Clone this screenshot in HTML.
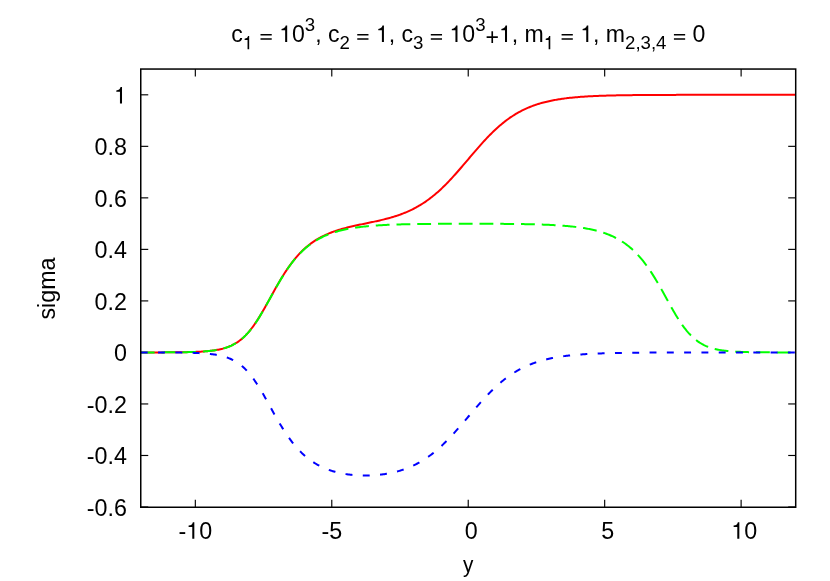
<!DOCTYPE html>
<html><head><meta charset="utf-8"><title>plot</title>
<style>
html,body{margin:0;padding:0;background:#fff;}
body{width:830px;height:581px;overflow:hidden;}
svg{display:block;will-change:transform;}
text{font-family:"Liberation Sans",sans-serif;font-size:23.3px;fill:#000;}
.sub{font-size:18.64px;}
.o,.e{fill:none;}
</style></head><body>
<svg width="830" height="581" viewBox="0 0 830 581">
<rect x="0" y="0" width="830" height="581" fill="#ffffff"/>
<g stroke="#000" stroke-width="1.15" fill="none">
<line x1="195.33" y1="507.25" x2="195.33" y2="499.75"/>
<line x1="195.33" y1="69.05" x2="195.33" y2="76.55"/>
<line x1="331.78" y1="507.25" x2="331.78" y2="499.75"/>
<line x1="331.78" y1="69.05" x2="331.78" y2="76.55"/>
<line x1="468.23" y1="507.25" x2="468.23" y2="499.75"/>
<line x1="468.23" y1="69.05" x2="468.23" y2="76.55"/>
<line x1="604.67" y1="507.25" x2="604.67" y2="499.75"/>
<line x1="604.67" y1="69.05" x2="604.67" y2="76.55"/>
<line x1="741.12" y1="507.25" x2="741.12" y2="499.75"/>
<line x1="741.12" y1="69.05" x2="741.12" y2="76.55"/>
<line x1="140.75" y1="507.00" x2="148.25" y2="507.00"/>
<line x1="795.70" y1="507.00" x2="788.20" y2="507.00"/>
<line x1="140.75" y1="455.48" x2="148.25" y2="455.48"/>
<line x1="795.70" y1="455.48" x2="788.20" y2="455.48"/>
<line x1="140.75" y1="403.95" x2="148.25" y2="403.95"/>
<line x1="795.70" y1="403.95" x2="788.20" y2="403.95"/>
<line x1="140.75" y1="300.91" x2="148.25" y2="300.91"/>
<line x1="795.70" y1="300.91" x2="788.20" y2="300.91"/>
<line x1="140.75" y1="249.38" x2="148.25" y2="249.38"/>
<line x1="795.70" y1="249.38" x2="788.20" y2="249.38"/>
<line x1="140.75" y1="197.86" x2="148.25" y2="197.86"/>
<line x1="795.70" y1="197.86" x2="788.20" y2="197.86"/>
<line x1="140.75" y1="146.34" x2="148.25" y2="146.34"/>
<line x1="795.70" y1="146.34" x2="788.20" y2="146.34"/>
<line x1="140.75" y1="94.81" x2="148.25" y2="94.81"/>
</g>
<g fill="none" stroke-linejoin="round" stroke-linecap="butt">
<path d="M140.75,352.42 L141.84,352.42 L142.93,352.42 L144.02,352.42 L145.12,352.42 L146.21,352.41 L147.30,352.41 L148.39,352.41 L149.48,352.41 L150.57,352.41 L151.67,352.41 L152.76,352.40 L153.85,352.40 L154.94,352.40 L156.03,352.40 L157.12,352.40 L158.22,352.39 L159.31,352.39 L160.40,352.39 L161.49,352.38 L162.58,352.38 L163.67,352.38 L164.76,352.37 L165.86,352.37 L166.95,352.36 L168.04,352.36 L169.13,352.35 L170.22,352.34 L171.31,352.34 L172.41,352.33 L173.50,352.32 L174.59,352.31 L175.68,352.30 L176.77,352.29 L177.86,352.28 L178.96,352.27 L180.05,352.25 L181.14,352.24 L182.23,352.22 L183.32,352.21 L184.41,352.19 L185.50,352.17 L186.60,352.15 L187.69,352.12 L188.78,352.10 L189.87,352.07 L190.96,352.04 L192.05,352.01 L193.15,351.97 L194.24,351.94 L195.33,351.90 L196.42,351.85 L197.51,351.80 L198.60,351.75 L199.70,351.70 L200.79,351.64 L201.88,351.57 L202.97,351.50 L204.06,351.43 L205.15,351.34 L206.25,351.25 L207.34,351.16 L208.43,351.05 L209.52,350.94 L210.61,350.82 L211.70,350.69 L212.79,350.55 L213.89,350.40 L214.98,350.23 L216.07,350.05 L217.16,349.86 L218.25,349.66 L219.34,349.43 L220.44,349.19 L221.53,348.93 L222.62,348.66 L223.71,348.36 L224.80,348.04 L225.89,347.69 L226.99,347.32 L228.08,346.92 L229.17,346.50 L230.26,346.04 L231.35,345.55 L232.44,345.02 L233.53,344.46 L234.63,343.87 L235.72,343.23 L236.81,342.55 L237.90,341.83 L238.99,341.06 L240.08,340.24 L241.18,339.38 L242.27,338.46 L243.36,337.49 L244.45,336.47 L245.54,335.39 L246.63,334.26 L247.73,333.07 L248.82,331.83 L249.91,330.53 L251.00,329.17 L252.09,327.75 L253.18,326.28 L254.27,324.76 L255.37,323.18 L256.46,321.55 L257.55,319.87 L258.64,318.15 L259.73,316.38 L260.82,314.57 L261.92,312.73 L263.01,310.86 L264.10,308.95 L265.19,307.02 L266.28,305.07 L267.37,303.11 L268.47,301.13 L269.56,299.15 L270.65,297.16 L271.74,295.18 L272.83,293.20 L273.92,291.23 L275.01,289.27 L276.11,287.33 L277.20,285.41 L278.29,283.51 L279.38,281.64 L280.47,279.80 L281.56,277.99 L282.66,276.21 L283.75,274.46 L284.84,272.76 L285.93,271.09 L287.02,269.46 L288.11,267.86 L289.21,266.31 L290.30,264.80 L291.39,263.33 L292.48,261.90 L293.57,260.51 L294.66,259.16 L295.75,257.85 L296.85,256.58 L297.94,255.35 L299.03,254.16 L300.12,253.01 L301.21,251.89 L302.30,250.81 L303.40,249.77 L304.49,248.76 L305.58,247.79 L306.67,246.84 L307.76,245.93 L308.85,245.06 L309.95,244.21 L311.04,243.39 L312.13,242.60 L313.22,241.84 L314.31,241.11 L315.40,240.40 L316.49,239.71 L317.59,239.05 L318.68,238.42 L319.77,237.80 L320.86,237.21 L321.95,236.63 L323.04,236.08 L324.14,235.55 L325.23,235.03 L326.32,234.54 L327.41,234.05 L328.50,233.59 L329.59,233.14 L330.69,232.71 L331.78,232.29 L332.87,231.88 L333.96,231.49 L335.05,231.10 L336.14,230.73 L337.24,230.38 L338.33,230.03 L339.42,229.69 L340.51,229.36 L341.60,229.04 L342.69,228.73 L343.78,228.43 L344.88,228.14 L345.97,227.85 L347.06,227.57 L348.15,227.30 L349.24,227.03 L350.33,226.77 L351.43,226.51 L352.52,226.26 L353.61,226.01 L354.70,225.76 L355.79,225.52 L356.88,225.28 L357.98,225.05 L359.07,224.82 L360.16,224.59 L361.25,224.36 L362.34,224.13 L363.43,223.90 L364.52,223.68 L365.62,223.45 L366.71,223.23 L367.80,223.00 L368.89,222.78 L369.98,222.55 L371.07,222.32 L372.17,222.09 L373.26,221.86 L374.35,221.63 L375.44,221.39 L376.53,221.15 L377.62,220.91 L378.72,220.66 L379.81,220.41 L380.90,220.15 L381.99,219.90 L383.08,219.63 L384.17,219.36 L385.26,219.09 L386.36,218.80 L387.45,218.52 L388.54,218.22 L389.63,217.92 L390.72,217.61 L391.81,217.30 L392.91,216.97 L394.00,216.64 L395.09,216.29 L396.18,215.94 L397.27,215.58 L398.36,215.21 L399.46,214.83 L400.55,214.44 L401.64,214.03 L402.73,213.62 L403.82,213.19 L404.91,212.75 L406.00,212.30 L407.10,211.83 L408.19,211.35 L409.28,210.86 L410.37,210.35 L411.46,209.83 L412.55,209.29 L413.65,208.74 L414.74,208.17 L415.83,207.59 L416.92,206.99 L418.01,206.37 L419.10,205.74 L420.20,205.09 L421.29,204.42 L422.38,203.73 L423.47,203.03 L424.56,202.30 L425.65,201.56 L426.74,200.80 L427.84,200.02 L428.93,199.22 L430.02,198.40 L431.11,197.56 L432.20,196.71 L433.29,195.83 L434.39,194.93 L435.48,194.02 L436.57,193.08 L437.66,192.13 L438.75,191.16 L439.84,190.16 L440.94,189.15 L442.03,188.12 L443.12,187.08 L444.21,186.01 L445.30,184.93 L446.39,183.83 L447.48,182.71 L448.58,181.58 L449.67,180.43 L450.76,179.27 L451.85,178.10 L452.94,176.91 L454.03,175.70 L455.13,174.49 L456.22,173.26 L457.31,172.02 L458.40,170.78 L459.49,169.52 L460.58,168.26 L461.68,166.99 L462.77,165.71 L463.86,164.43 L464.95,163.15 L466.04,161.86 L467.13,160.57 L468.23,159.28 L469.32,157.99 L470.41,156.70 L471.50,155.41 L472.59,154.13 L473.68,152.85 L474.77,151.58 L475.87,150.31 L476.96,149.05 L478.05,147.79 L479.14,146.55 L480.23,145.31 L481.32,144.09 L482.42,142.88 L483.51,141.68 L484.60,140.49 L485.69,139.32 L486.78,138.16 L487.87,137.01 L488.97,135.89 L490.06,134.77 L491.15,133.68 L492.24,132.60 L493.33,131.54 L494.42,130.50 L495.51,129.48 L496.61,128.47 L497.70,127.49 L498.79,126.52 L499.88,125.57 L500.97,124.65 L502.06,123.74 L503.16,122.85 L504.25,121.98 L505.34,121.14 L506.43,120.31 L507.52,119.50 L508.61,118.71 L509.71,117.94 L510.80,117.19 L511.89,116.46 L512.98,115.75 L514.07,115.06 L515.16,114.39 L516.25,113.73 L517.35,113.09 L518.44,112.48 L519.53,111.87 L520.62,111.29 L521.71,110.72 L522.80,110.17 L523.90,109.64 L524.99,109.12 L526.08,108.62 L527.17,108.14 L528.26,107.67 L529.35,107.21 L530.45,106.77 L531.54,106.34 L532.63,105.93 L533.72,105.53 L534.81,105.14 L535.90,104.77 L536.99,104.41 L538.09,104.06 L539.18,103.72 L540.27,103.40 L541.36,103.08 L542.45,102.78 L543.54,102.48 L544.64,102.20 L545.73,101.93 L546.82,101.66 L547.91,101.41 L549.00,101.16 L550.09,100.92 L551.19,100.70 L552.28,100.47 L553.37,100.26 L554.46,100.06 L555.55,99.86 L556.64,99.67 L557.73,99.49 L558.83,99.31 L559.92,99.14 L561.01,98.97 L562.10,98.82 L563.19,98.66 L564.28,98.52 L565.38,98.38 L566.47,98.24 L567.56,98.11 L568.65,97.98 L569.74,97.86 L570.83,97.74 L571.93,97.63 L573.02,97.52 L574.11,97.42 L575.20,97.32 L576.29,97.22 L577.38,97.13 L578.47,97.04 L579.57,96.95 L580.66,96.87 L581.75,96.79 L582.84,96.72 L583.93,96.64 L585.02,96.57 L586.12,96.50 L587.21,96.44 L588.30,96.37 L589.39,96.31 L590.48,96.26 L591.57,96.20 L592.67,96.15 L593.76,96.09 L594.85,96.04 L595.94,96.00 L597.03,95.95 L598.12,95.91 L599.22,95.86 L600.31,95.82 L601.40,95.78 L602.49,95.75 L603.58,95.71 L604.67,95.67 L605.76,95.64 L606.86,95.61 L607.95,95.58 L609.04,95.55 L610.13,95.52 L611.22,95.49 L612.31,95.46 L613.41,95.44 L614.50,95.41 L615.59,95.39 L616.68,95.37 L617.77,95.35 L618.86,95.33 L619.96,95.31 L621.05,95.29 L622.14,95.27 L623.23,95.25 L624.32,95.23 L625.41,95.22 L626.50,95.20 L627.60,95.19 L628.69,95.17 L629.78,95.16 L630.87,95.14 L631.96,95.13 L633.05,95.12 L634.15,95.11 L635.24,95.09 L636.33,95.08 L637.42,95.07 L638.51,95.06 L639.60,95.05 L640.70,95.04 L641.79,95.03 L642.88,95.03 L643.97,95.02 L645.06,95.01 L646.15,95.00 L647.24,94.99 L648.34,94.99 L649.43,94.98 L650.52,94.97 L651.61,94.97 L652.70,94.96 L653.79,94.96 L654.89,94.95 L655.98,94.94 L657.07,94.94 L658.16,94.93 L659.25,94.93 L660.34,94.92 L661.44,94.92 L662.53,94.92 L663.62,94.91 L664.71,94.91 L665.80,94.90 L666.89,94.90 L667.98,94.90 L669.08,94.89 L670.17,94.89 L671.26,94.89 L672.35,94.88 L673.44,94.88 L674.53,94.88 L675.63,94.88 L676.72,94.87 L677.81,94.87 L678.90,94.87 L679.99,94.87 L681.08,94.86 L682.18,94.86 L683.27,94.86 L684.36,94.86 L685.45,94.86 L686.54,94.85 L687.63,94.85 L688.72,94.85 L689.82,94.85 L690.91,94.85 L692.00,94.85 L693.09,94.85 L694.18,94.84 L695.27,94.84 L696.37,94.84 L697.46,94.84 L698.55,94.84 L699.64,94.84 L700.73,94.84 L701.82,94.84 L702.92,94.84 L704.01,94.83 L705.10,94.83 L706.19,94.83 L707.28,94.83 L708.37,94.83 L709.46,94.83 L710.56,94.83 L711.65,94.83 L712.74,94.83 L713.83,94.83 L714.92,94.83 L716.01,94.83 L717.11,94.83 L718.20,94.83 L719.29,94.82 L720.38,94.82 L721.47,94.82 L722.56,94.82 L723.66,94.82 L724.75,94.82 L725.84,94.82 L726.93,94.82 L728.02,94.82 L729.11,94.82 L730.21,94.82 L731.30,94.82 L732.39,94.82 L733.48,94.82 L734.57,94.82 L735.66,94.82 L736.75,94.82 L737.85,94.82 L738.94,94.82 L740.03,94.82 L741.12,94.82 L742.21,94.82 L743.30,94.82 L744.40,94.82 L745.49,94.82 L746.58,94.82 L747.67,94.82 L748.76,94.82 L749.85,94.82 L750.95,94.82 L752.04,94.82 L753.13,94.82 L754.22,94.82 L755.31,94.82 L756.40,94.82 L757.49,94.81 L758.59,94.81 L759.68,94.81 L760.77,94.81 L761.86,94.81 L762.95,94.81 L764.04,94.81 L765.14,94.81 L766.23,94.81 L767.32,94.81 L768.41,94.81 L769.50,94.81 L770.59,94.81 L771.69,94.81 L772.78,94.81 L773.87,94.81 L774.96,94.81 L776.05,94.81 L777.14,94.81 L778.23,94.81 L779.33,94.81 L780.42,94.81 L781.51,94.81 L782.60,94.81 L783.69,94.81 L784.78,94.81 L785.88,94.81 L786.97,94.81 L788.06,94.81 L789.15,94.81 L790.24,94.81 L791.33,94.81 L792.43,94.81 L793.52,94.81 L794.61,94.81 L795.70,94.81" stroke="#ff0000" stroke-width="2"/>
<path d="M140.75,352.42 L141.84,352.42 L142.93,352.42 L144.02,352.42 L145.12,352.42 L146.21,352.41 L147.30,352.41 L148.39,352.41 L149.48,352.41 L150.57,352.41 L151.67,352.41 L152.76,352.41 L153.85,352.40 L154.94,352.40 L156.03,352.40 L157.12,352.40 L158.22,352.39 L159.31,352.39 L160.40,352.39 L161.49,352.38 L162.58,352.38 L163.67,352.38 L164.76,352.37 L165.86,352.37 L166.95,352.36 L168.04,352.36 L169.13,352.35 L170.22,352.35 L171.31,352.34 L172.41,352.33 L173.50,352.32 L174.59,352.31 L175.68,352.30 L176.77,352.29 L177.86,352.28 L178.96,352.27 L180.05,352.26 L181.14,352.24 L182.23,352.23 L183.32,352.21 L184.41,352.19 L185.50,352.17 L186.60,352.15 L187.69,352.13 L188.78,352.10 L189.87,352.07 L190.96,352.05 L192.05,352.01 L193.15,351.98 L194.24,351.94 L195.33,351.90 L196.42,351.86 L197.51,351.81 L198.60,351.76 L199.70,351.70 L200.79,351.64 L201.88,351.58 L202.97,351.51 L204.06,351.43 L205.15,351.35 L206.25,351.26 L207.34,351.17 L208.43,351.06 L209.52,350.95 L210.61,350.83 L211.70,350.70 L212.79,350.56 L213.89,350.41 L214.98,350.24 L216.07,350.07 L217.16,349.87 L218.25,349.67 L219.34,349.45 L220.44,349.21 L221.53,348.95 L222.62,348.67 L223.71,348.37 L224.80,348.05 L225.89,347.71 L226.99,347.34 L228.08,346.94 L229.17,346.52 L230.26,346.06 L231.35,345.57 L232.44,345.05 L233.53,344.49 L234.63,343.89 L235.72,343.25 L236.81,342.58 L237.90,341.85 L238.99,341.09 L240.08,340.27 L241.18,339.41 L242.27,338.49 L243.36,337.53 L244.45,336.50 L245.54,335.43 L246.63,334.30 L247.73,333.11 L248.82,331.87 L249.91,330.57 L251.00,329.21 L252.09,327.80 L253.18,326.33 L254.27,324.81 L255.37,323.23 L256.46,321.60 L257.55,319.93 L258.64,318.21 L259.73,316.44 L260.82,314.64 L261.92,312.80 L263.01,310.92 L264.10,309.02 L265.19,307.10 L266.28,305.15 L267.37,303.19 L268.47,301.22 L269.56,299.24 L270.65,297.25 L271.74,295.27 L272.83,293.30 L273.92,291.33 L275.01,289.38 L276.11,287.44 L277.20,285.53 L278.29,283.63 L279.38,281.77 L280.47,279.93 L281.56,278.13 L282.66,276.35 L283.75,274.61 L284.84,272.91 L285.93,271.25 L287.02,269.62 L288.11,268.04 L289.21,266.49 L290.30,264.99 L291.39,263.52 L292.48,262.10 L293.57,260.72 L294.66,259.38 L295.75,258.08 L296.85,256.82 L297.94,255.60 L299.03,254.42 L300.12,253.28 L301.21,252.17 L302.30,251.11 L303.40,250.07 L304.49,249.08 L305.58,248.12 L306.67,247.19 L307.76,246.29 L308.85,245.43 L309.95,244.60 L311.04,243.80 L312.13,243.02 L313.22,242.28 L314.31,241.56 L315.40,240.87 L316.49,240.21 L317.59,239.57 L318.68,238.95 L319.77,238.36 L320.86,237.79 L321.95,237.24 L323.04,236.71 L324.14,236.20 L325.23,235.71 L326.32,235.24 L327.41,234.79 L328.50,234.36 L329.59,233.94 L330.69,233.54 L331.78,233.15 L332.87,232.78 L333.96,232.42 L335.05,232.08 L336.14,231.75 L337.24,231.43 L338.33,231.12 L339.42,230.83 L340.51,230.55 L341.60,230.28 L342.69,230.02 L343.78,229.77 L344.88,229.53 L345.97,229.30 L347.06,229.07 L348.15,228.86 L349.24,228.66 L350.33,228.46 L351.43,228.27 L352.52,228.09 L353.61,227.91 L354.70,227.74 L355.79,227.58 L356.88,227.43 L357.98,227.28 L359.07,227.14 L360.16,227.00 L361.25,226.87 L362.34,226.74 L363.43,226.62 L364.52,226.50 L365.62,226.39 L366.71,226.28 L367.80,226.17 L368.89,226.07 L369.98,225.98 L371.07,225.89 L372.17,225.80 L373.26,225.71 L374.35,225.63 L375.44,225.55 L376.53,225.48 L377.62,225.40 L378.72,225.33 L379.81,225.27 L380.90,225.20 L381.99,225.14 L383.08,225.08 L384.17,225.02 L385.26,224.97 L386.36,224.92 L387.45,224.87 L388.54,224.82 L389.63,224.77 L390.72,224.73 L391.81,224.68 L392.91,224.64 L394.00,224.60 L395.09,224.56 L396.18,224.53 L397.27,224.49 L398.36,224.46 L399.46,224.43 L400.55,224.39 L401.64,224.36 L402.73,224.34 L403.82,224.31 L404.91,224.28 L406.00,224.26 L407.10,224.23 L408.19,224.21 L409.28,224.19 L410.37,224.16 L411.46,224.14 L412.55,224.12 L413.65,224.10 L414.74,224.09 L415.83,224.07 L416.92,224.05 L418.01,224.04 L419.10,224.02 L420.20,224.01 L421.29,223.99 L422.38,223.98 L423.47,223.96 L424.56,223.95 L425.65,223.94 L426.74,223.93 L427.84,223.92 L428.93,223.91 L430.02,223.90 L431.11,223.89 L432.20,223.88 L433.29,223.87 L434.39,223.86 L435.48,223.85 L436.57,223.85 L437.66,223.84 L438.75,223.83 L439.84,223.83 L440.94,223.82 L442.03,223.81 L443.12,223.81 L444.21,223.80 L445.30,223.80 L446.39,223.79 L447.48,223.79 L448.58,223.78 L449.67,223.78 L450.76,223.78 L451.85,223.77 L452.94,223.77 L454.03,223.77 L455.13,223.76 L456.22,223.76 L457.31,223.76 L458.40,223.76 L459.49,223.76 L460.58,223.75 L461.68,223.75 L462.77,223.75 L463.86,223.75 L464.95,223.75 L466.04,223.75 L467.13,223.75 L468.23,223.75 L469.32,223.75 L470.41,223.75 L471.50,223.75 L472.59,223.75 L473.68,223.75 L474.77,223.75 L475.87,223.75 L476.96,223.76 L478.05,223.76 L479.14,223.76 L480.23,223.76 L481.32,223.76 L482.42,223.77 L483.51,223.77 L484.60,223.77 L485.69,223.78 L486.78,223.78 L487.87,223.78 L488.97,223.79 L490.06,223.79 L491.15,223.80 L492.24,223.80 L493.33,223.81 L494.42,223.81 L495.51,223.82 L496.61,223.83 L497.70,223.83 L498.79,223.84 L499.88,223.85 L500.97,223.85 L502.06,223.86 L503.16,223.87 L504.25,223.88 L505.34,223.89 L506.43,223.90 L507.52,223.91 L508.61,223.92 L509.71,223.93 L510.80,223.94 L511.89,223.95 L512.98,223.96 L514.07,223.98 L515.16,223.99 L516.25,224.01 L517.35,224.02 L518.44,224.04 L519.53,224.05 L520.62,224.07 L521.71,224.09 L522.80,224.10 L523.90,224.12 L524.99,224.14 L526.08,224.16 L527.17,224.19 L528.26,224.21 L529.35,224.23 L530.45,224.26 L531.54,224.28 L532.63,224.31 L533.72,224.34 L534.81,224.36 L535.90,224.39 L536.99,224.43 L538.09,224.46 L539.18,224.49 L540.27,224.53 L541.36,224.56 L542.45,224.60 L543.54,224.64 L544.64,224.68 L545.73,224.73 L546.82,224.77 L547.91,224.82 L549.00,224.87 L550.09,224.92 L551.19,224.97 L552.28,225.02 L553.37,225.08 L554.46,225.14 L555.55,225.20 L556.64,225.27 L557.73,225.33 L558.83,225.40 L559.92,225.48 L561.01,225.55 L562.10,225.63 L563.19,225.71 L564.28,225.80 L565.38,225.89 L566.47,225.98 L567.56,226.07 L568.65,226.17 L569.74,226.28 L570.83,226.39 L571.93,226.50 L573.02,226.62 L574.11,226.74 L575.20,226.87 L576.29,227.00 L577.38,227.14 L578.47,227.28 L579.57,227.43 L580.66,227.58 L581.75,227.74 L582.84,227.91 L583.93,228.09 L585.02,228.27 L586.12,228.46 L587.21,228.66 L588.30,228.86 L589.39,229.07 L590.48,229.30 L591.57,229.53 L592.67,229.77 L593.76,230.02 L594.85,230.28 L595.94,230.55 L597.03,230.83 L598.12,231.12 L599.22,231.43 L600.31,231.75 L601.40,232.08 L602.49,232.42 L603.58,232.78 L604.67,233.15 L605.76,233.54 L606.86,233.94 L607.95,234.36 L609.04,234.79 L610.13,235.24 L611.22,235.71 L612.31,236.20 L613.41,236.71 L614.50,237.24 L615.59,237.79 L616.68,238.36 L617.77,238.95 L618.86,239.57 L619.96,240.21 L621.05,240.87 L622.14,241.56 L623.23,242.28 L624.32,243.02 L625.41,243.80 L626.50,244.60 L627.60,245.43 L628.69,246.29 L629.78,247.19 L630.87,248.12 L631.96,249.08 L633.05,250.07 L634.15,251.11 L635.24,252.17 L636.33,253.28 L637.42,254.42 L638.51,255.60 L639.60,256.82 L640.70,258.08 L641.79,259.38 L642.88,260.72 L643.97,262.10 L645.06,263.52 L646.15,264.99 L647.24,266.49 L648.34,268.04 L649.43,269.62 L650.52,271.25 L651.61,272.91 L652.70,274.61 L653.79,276.35 L654.89,278.13 L655.98,279.93 L657.07,281.77 L658.16,283.63 L659.25,285.53 L660.34,287.44 L661.44,289.38 L662.53,291.33 L663.62,293.30 L664.71,295.27 L665.80,297.25 L666.89,299.24 L667.98,301.22 L669.08,303.19 L670.17,305.15 L671.26,307.10 L672.35,309.02 L673.44,310.92 L674.53,312.80 L675.63,314.64 L676.72,316.44 L677.81,318.21 L678.90,319.93 L679.99,321.60 L681.08,323.23 L682.18,324.81 L683.27,326.33 L684.36,327.80 L685.45,329.21 L686.54,330.57 L687.63,331.87 L688.72,333.11 L689.82,334.30 L690.91,335.43 L692.00,336.50 L693.09,337.53 L694.18,338.49 L695.27,339.41 L696.37,340.27 L697.46,341.09 L698.55,341.85 L699.64,342.58 L700.73,343.25 L701.82,343.89 L702.92,344.49 L704.01,345.05 L705.10,345.57 L706.19,346.06 L707.28,346.52 L708.37,346.94 L709.46,347.34 L710.56,347.71 L711.65,348.05 L712.74,348.37 L713.83,348.67 L714.92,348.95 L716.01,349.21 L717.11,349.45 L718.20,349.67 L719.29,349.87 L720.38,350.07 L721.47,350.24 L722.56,350.41 L723.66,350.56 L724.75,350.70 L725.84,350.83 L726.93,350.95 L728.02,351.06 L729.11,351.17 L730.21,351.26 L731.30,351.35 L732.39,351.43 L733.48,351.51 L734.57,351.58 L735.66,351.64 L736.75,351.70 L737.85,351.76 L738.94,351.81 L740.03,351.86 L741.12,351.90 L742.21,351.94 L743.30,351.98 L744.40,352.01 L745.49,352.05 L746.58,352.07 L747.67,352.10 L748.76,352.13 L749.85,352.15 L750.95,352.17 L752.04,352.19 L753.13,352.21 L754.22,352.23 L755.31,352.24 L756.40,352.26 L757.49,352.27 L758.59,352.28 L759.68,352.29 L760.77,352.30 L761.86,352.31 L762.95,352.32 L764.04,352.33 L765.14,352.34 L766.23,352.35 L767.32,352.35 L768.41,352.36 L769.50,352.36 L770.59,352.37 L771.69,352.37 L772.78,352.38 L773.87,352.38 L774.96,352.38 L776.05,352.39 L777.14,352.39 L778.23,352.39 L779.33,352.40 L780.42,352.40 L781.51,352.40 L782.60,352.40 L783.69,352.41 L784.78,352.41 L785.88,352.41 L786.97,352.41 L788.06,352.41 L789.15,352.41 L790.24,352.41 L791.33,352.42 L792.43,352.42 L793.52,352.42 L794.61,352.42 L795.70,352.42" stroke="#00ff00" stroke-width="2" stroke-dasharray="13.835,6.917"/>
<path d="M140.75,352.44 L141.84,352.44 L142.93,352.44 L144.02,352.44 L145.12,352.44 L146.21,352.44 L147.30,352.44 L148.39,352.45 L149.48,352.45 L150.57,352.45 L151.67,352.45 L152.76,352.45 L153.85,352.45 L154.94,352.46 L156.03,352.46 L157.12,352.46 L158.22,352.46 L159.31,352.47 L160.40,352.47 L161.49,352.47 L162.58,352.48 L163.67,352.48 L164.76,352.48 L165.86,352.49 L166.95,352.49 L168.04,352.50 L169.13,352.51 L170.22,352.51 L171.31,352.52 L172.41,352.53 L173.50,352.53 L174.59,352.54 L175.68,352.55 L176.77,352.56 L177.86,352.57 L178.96,352.59 L180.05,352.60 L181.14,352.61 L182.23,352.63 L183.32,352.65 L184.41,352.66 L185.50,352.68 L186.60,352.70 L187.69,352.73 L188.78,352.75 L189.87,352.78 L190.96,352.81 L192.05,352.84 L193.15,352.87 L194.24,352.91 L195.33,352.95 L196.42,353.00 L197.51,353.04 L198.60,353.09 L199.70,353.15 L200.79,353.21 L201.88,353.27 L202.97,353.34 L204.06,353.42 L205.15,353.50 L206.25,353.59 L207.34,353.68 L208.43,353.79 L209.52,353.90 L210.61,354.02 L211.70,354.15 L212.79,354.29 L213.89,354.44 L214.98,354.60 L216.07,354.78 L217.16,354.97 L218.25,355.18 L219.34,355.40 L220.44,355.64 L221.53,355.89 L222.62,356.17 L223.71,356.47 L224.80,356.79 L225.89,357.13 L226.99,357.50 L228.08,357.90 L229.17,358.32 L230.26,358.78 L231.35,359.27 L232.44,359.79 L233.53,360.35 L234.63,360.94 L235.72,361.58 L236.81,362.26 L237.90,362.98 L238.99,363.74 L240.08,364.56 L241.18,365.42 L242.27,366.33 L243.36,367.30 L244.45,368.32 L245.54,369.39 L246.63,370.52 L247.73,371.71 L248.82,372.95 L249.91,374.25 L251.00,375.60 L252.09,377.01 L253.18,378.48 L254.27,380.00 L255.37,381.58 L256.46,383.20 L257.55,384.87 L258.64,386.59 L259.73,388.35 L260.82,390.16 L261.92,391.99 L263.01,393.86 L264.10,395.76 L265.19,397.69 L266.28,399.63 L267.37,401.59 L268.47,403.56 L269.56,405.53 L270.65,407.51 L271.74,409.49 L272.83,411.46 L273.92,413.42 L275.01,415.37 L276.11,417.30 L277.20,419.22 L278.29,421.10 L279.38,422.96 L280.47,424.80 L281.56,426.60 L282.66,428.36 L283.75,430.10 L284.84,431.79 L285.93,433.45 L287.02,435.07 L288.11,436.65 L289.21,438.18 L290.30,439.68 L291.39,441.14 L292.48,442.55 L293.57,443.92 L294.66,445.26 L295.75,446.55 L296.85,447.80 L297.94,449.01 L299.03,450.18 L300.12,451.31 L301.21,452.40 L302.30,453.46 L303.40,454.48 L304.49,455.46 L305.58,456.41 L306.67,457.33 L307.76,458.21 L308.85,459.05 L309.95,459.87 L311.04,460.66 L312.13,461.41 L313.22,462.14 L314.31,462.84 L315.40,463.51 L316.49,464.16 L317.59,464.78 L318.68,465.37 L319.77,465.95 L320.86,466.49 L321.95,467.02 L323.04,467.52 L324.14,468.01 L325.23,468.47 L326.32,468.91 L327.41,469.33 L328.50,469.74 L329.59,470.13 L330.69,470.50 L331.78,470.85 L332.87,471.19 L333.96,471.51 L335.05,471.81 L336.14,472.10 L337.24,472.38 L338.33,472.64 L339.42,472.89 L340.51,473.13 L341.60,473.35 L342.69,473.56 L343.78,473.76 L344.88,473.95 L345.97,474.12 L347.06,474.28 L348.15,474.44 L349.24,474.58 L350.33,474.71 L351.43,474.83 L352.52,474.94 L353.61,475.04 L354.70,475.14 L355.79,475.22 L356.88,475.29 L357.98,475.35 L359.07,475.41 L360.16,475.45 L361.25,475.49 L362.34,475.52 L363.43,475.53 L364.52,475.54 L365.62,475.54 L366.71,475.53 L367.80,475.52 L368.89,475.49 L369.98,475.46 L371.07,475.41 L372.17,475.36 L373.26,475.30 L374.35,475.23 L375.44,475.15 L376.53,475.06 L377.62,474.96 L378.72,474.86 L379.81,474.74 L380.90,474.61 L381.99,474.48 L383.08,474.33 L384.17,474.18 L385.26,474.01 L386.36,473.84 L387.45,473.65 L388.54,473.45 L389.63,473.25 L390.72,473.03 L391.81,472.80 L392.91,472.55 L394.00,472.30 L395.09,472.03 L396.18,471.76 L397.27,471.47 L398.36,471.16 L399.46,470.85 L400.55,470.52 L401.64,470.17 L402.73,469.82 L403.82,469.44 L404.91,469.06 L406.00,468.66 L407.10,468.24 L408.19,467.81 L409.28,467.36 L410.37,466.90 L411.46,466.42 L412.55,465.92 L413.65,465.41 L414.74,464.88 L415.83,464.33 L416.92,463.76 L418.01,463.18 L419.10,462.58 L420.20,461.96 L421.29,461.32 L422.38,460.66 L423.47,459.98 L424.56,459.28 L425.65,458.56 L426.74,457.83 L427.84,457.07 L428.93,456.29 L430.02,455.50 L431.11,454.68 L432.20,453.84 L433.29,452.98 L434.39,452.11 L435.48,451.21 L436.57,450.29 L437.66,449.35 L438.75,448.39 L439.84,447.42 L440.94,446.42 L442.03,445.41 L443.12,444.37 L444.21,443.32 L445.30,442.25 L446.39,441.16 L447.48,440.06 L448.58,438.93 L449.67,437.80 L450.76,436.65 L451.85,435.48 L452.94,434.30 L454.03,433.10 L455.13,431.90 L456.22,430.68 L457.31,429.45 L458.40,428.21 L459.49,426.96 L460.58,425.71 L461.68,424.44 L462.77,423.17 L463.86,421.90 L464.95,420.62 L466.04,419.34 L467.13,418.05 L468.23,416.77 L469.32,415.48 L470.41,414.20 L471.50,412.92 L472.59,411.64 L473.68,410.36 L474.77,409.09 L475.87,407.83 L476.96,406.57 L478.05,405.32 L479.14,404.08 L480.23,402.85 L481.32,401.63 L482.42,400.42 L483.51,399.22 L484.60,398.04 L485.69,396.87 L486.78,395.71 L487.87,394.57 L488.97,393.44 L490.06,392.33 L491.15,391.24 L492.24,390.17 L493.33,389.11 L494.42,388.07 L495.51,387.05 L496.61,386.05 L497.70,385.06 L498.79,384.10 L499.88,383.15 L500.97,382.23 L502.06,381.32 L503.16,380.43 L504.25,379.57 L505.34,378.72 L506.43,377.89 L507.52,377.09 L508.61,376.30 L509.71,375.53 L510.80,374.78 L511.89,374.05 L512.98,373.34 L514.07,372.65 L515.16,371.98 L516.25,371.33 L517.35,370.69 L518.44,370.07 L519.53,369.47 L520.62,368.89 L521.71,368.32 L522.80,367.78 L523.90,367.24 L524.99,366.73 L526.08,366.23 L527.17,365.74 L528.26,365.27 L529.35,364.82 L530.45,364.38 L531.54,363.95 L532.63,363.54 L533.72,363.14 L534.81,362.75 L535.90,362.38 L536.99,362.02 L538.09,361.67 L539.18,361.33 L540.27,361.00 L541.36,360.69 L542.45,360.39 L543.54,360.09 L544.64,359.81 L545.73,359.54 L546.82,359.27 L547.91,359.02 L549.00,358.77 L550.09,358.54 L551.19,358.31 L552.28,358.09 L553.37,357.87 L554.46,357.67 L555.55,357.47 L556.64,357.28 L557.73,357.10 L558.83,356.92 L559.92,356.75 L561.01,356.59 L562.10,356.43 L563.19,356.28 L564.28,356.13 L565.38,355.99 L566.47,355.85 L567.56,355.72 L568.65,355.60 L569.74,355.48 L570.83,355.36 L571.93,355.25 L573.02,355.14 L574.11,355.03 L575.20,354.93 L576.29,354.84 L577.38,354.75 L578.47,354.66 L579.57,354.57 L580.66,354.49 L581.75,354.41 L582.84,354.33 L583.93,354.26 L585.02,354.19 L586.12,354.12 L587.21,354.05 L588.30,353.99 L589.39,353.93 L590.48,353.87 L591.57,353.82 L592.67,353.76 L593.76,353.71 L594.85,353.66 L595.94,353.61 L597.03,353.57 L598.12,353.52 L599.22,353.48 L600.31,353.44 L601.40,353.40 L602.49,353.36 L603.58,353.33 L604.67,353.29 L605.76,353.26 L606.86,353.23 L607.95,353.19 L609.04,353.16 L610.13,353.14 L611.22,353.11 L612.31,353.08 L613.41,353.06 L614.50,353.03 L615.59,353.01 L616.68,352.99 L617.77,352.96 L618.86,352.94 L619.96,352.92 L621.05,352.90 L622.14,352.89 L623.23,352.87 L624.32,352.85 L625.41,352.83 L626.50,352.82 L627.60,352.80 L628.69,352.79 L629.78,352.77 L630.87,352.76 L631.96,352.75 L633.05,352.74 L634.15,352.72 L635.24,352.71 L636.33,352.70 L637.42,352.69 L638.51,352.68 L639.60,352.67 L640.70,352.66 L641.79,352.65 L642.88,352.64 L643.97,352.63 L645.06,352.63 L646.15,352.62 L647.24,352.61 L648.34,352.60 L649.43,352.60 L650.52,352.59 L651.61,352.58 L652.70,352.58 L653.79,352.57 L654.89,352.57 L655.98,352.56 L657.07,352.56 L658.16,352.55 L659.25,352.55 L660.34,352.54 L661.44,352.54 L662.53,352.53 L663.62,352.53 L664.71,352.53 L665.80,352.52 L666.89,352.52 L667.98,352.51 L669.08,352.51 L670.17,352.51 L671.26,352.50 L672.35,352.50 L673.44,352.50 L674.53,352.50 L675.63,352.49 L676.72,352.49 L677.81,352.49 L678.90,352.49 L679.99,352.48 L681.08,352.48 L682.18,352.48 L683.27,352.48 L684.36,352.48 L685.45,352.47 L686.54,352.47 L687.63,352.47 L688.72,352.47 L689.82,352.47 L690.91,352.47 L692.00,352.46 L693.09,352.46 L694.18,352.46 L695.27,352.46 L696.37,352.46 L697.46,352.46 L698.55,352.46 L699.64,352.46 L700.73,352.46 L701.82,352.45 L702.92,352.45 L704.01,352.45 L705.10,352.45 L706.19,352.45 L707.28,352.45 L708.37,352.45 L709.46,352.45 L710.56,352.45 L711.65,352.45 L712.74,352.45 L713.83,352.45 L714.92,352.44 L716.01,352.44 L717.11,352.44 L718.20,352.44 L719.29,352.44 L720.38,352.44 L721.47,352.44 L722.56,352.44 L723.66,352.44 L724.75,352.44 L725.84,352.44 L726.93,352.44 L728.02,352.44 L729.11,352.44 L730.21,352.44 L731.30,352.44 L732.39,352.44 L733.48,352.44 L734.57,352.44 L735.66,352.44 L736.75,352.44 L737.85,352.44 L738.94,352.44 L740.03,352.44 L741.12,352.44 L742.21,352.44 L743.30,352.43 L744.40,352.43 L745.49,352.43 L746.58,352.43 L747.67,352.43 L748.76,352.43 L749.85,352.43 L750.95,352.43 L752.04,352.43 L753.13,352.43 L754.22,352.43 L755.31,352.43 L756.40,352.43 L757.49,352.43 L758.59,352.43 L759.68,352.43 L760.77,352.43 L761.86,352.43 L762.95,352.43 L764.04,352.43 L765.14,352.43 L766.23,352.43 L767.32,352.43 L768.41,352.43 L769.50,352.43 L770.59,352.43 L771.69,352.43 L772.78,352.43 L773.87,352.43 L774.96,352.43 L776.05,352.43 L777.14,352.43 L778.23,352.43 L779.33,352.43 L780.42,352.43 L781.51,352.43 L782.60,352.43 L783.69,352.43 L784.78,352.43 L785.88,352.43 L786.97,352.43 L788.06,352.43 L789.15,352.43 L790.24,352.43 L791.33,352.43 L792.43,352.43 L793.52,352.43 L794.61,352.43 L795.70,352.43" stroke="#0000ff" stroke-width="2" stroke-dasharray="6.92,10.375"/>
</g>
<rect x="140.75" y="69.05" width="654.95" height="438.20" fill="none" stroke="#000" stroke-width="1.5"/>
<g>
<text x="195.33" y="538.80" text-anchor="middle">-<tspan class="o">1</tspan>0</text>
<text x="331.78" y="538.80" text-anchor="middle">-5</text>
<text x="471.33" y="538.80" text-anchor="middle">0</text>
<text x="607.77" y="538.80" text-anchor="middle">5</text>
<text x="744.22" y="538.80" text-anchor="middle"><tspan class="o">1</tspan>0</text>
<text x="126.90" y="515.80" text-anchor="end">-0.6</text>
<text x="126.90" y="464.28" text-anchor="end">-0.4</text>
<text x="126.90" y="412.75" text-anchor="end">-0.2</text>
<text x="126.90" y="361.23" text-anchor="end">0</text>
<text x="126.90" y="309.71" text-anchor="end">0.2</text>
<text x="126.90" y="258.18" text-anchor="end">0.4</text>
<text x="126.90" y="206.66" text-anchor="end">0.6</text>
<text x="126.90" y="155.14" text-anchor="end">0.8</text>
<text x="126.90" y="103.61" text-anchor="end"><tspan class="o">1</tspan></text>
</g>
<text x="49.2" y="288.5" text-anchor="middle" transform="rotate(-90 49.2 288.5)" dy="6">sigma</text>
<text x="0" y="0" text-anchor="middle" transform="translate(468.1 572.2) scale(0.89 0.985)">y</text>
<text x="468.3" y="42.0" text-anchor="middle" xml:space="preserve" style="font-size:23.1px;word-spacing:-0.13px">c<tspan class="sub" dy="7.3"><tspan class="o">1</tspan></tspan><tspan dy="-7.3"> <tspan class="e">=</tspan> <tspan class="o">1</tspan>0</tspan><tspan class="sub" dy="-10.8">3</tspan><tspan dy="10.8">, c</tspan><tspan class="sub" dy="7.3">2</tspan><tspan dy="-7.3"> <tspan class="e">=</tspan> <tspan class="o">1</tspan>, c</tspan><tspan class="sub" dy="7.3">3</tspan><tspan dy="-7.3"> <tspan class="e">=</tspan> <tspan class="o">1</tspan>0</tspan><tspan class="sub" dy="-10.8">3</tspan><tspan dy="14.0">+</tspan><tspan dy="-3.2"><tspan class="o">1</tspan>, m</tspan><tspan class="sub" dy="7.3"><tspan class="o">1</tspan></tspan><tspan dy="-7.3"> <tspan class="e">=</tspan> <tspan class="o">1</tspan>, m</tspan><tspan class="sub" dy="7.3">2,3,4</tspan><tspan dy="-7.3"> <tspan class="e">=</tspan> 0</tspan></text>
<g fill="#000" stroke="none">
<path d="M259 0L259 505L102 505L102 568C216 583 253 609 285 709L347 709L347 0Z" transform="translate(186.24 538.80) scale(0.02330 -0.02330)"/>
<path d="M259 0L259 505L102 505L102 568C216 583 253 609 285 709L347 709L347 0Z" transform="translate(731.25 538.80) scale(0.02330 -0.02330)"/>
<path d="M259 0L259 505L102 505L102 568C216 583 253 609 285 709L347 709L347 0Z" transform="translate(113.93 103.61) scale(0.02330 -0.02330)"/>
<path d="M259 0L259 505L102 505L102 568C216 583 253 609 285 709L347 709L347 0Z" transform="translate(242.71 49.30) scale(0.01864 -0.01864)"/>
<path d="M49 98H535V166H49ZM49 276H535V344H49Z" transform="translate(259.37 42.00) scale(0.02310 -0.02310)"/>
<path d="M259 0L259 505L102 505L102 568C216 583 253 609 285 709L347 709L347 0Z" transform="translate(279.17 42.00) scale(0.02310 -0.02310)"/>
<path d="M49 98H535V166H49ZM49 276H535V344H49Z" transform="translate(356.12 42.00) scale(0.02310 -0.02310)"/>
<path d="M259 0L259 505L102 505L102 568C216 583 253 609 285 709L347 709L347 0Z" transform="translate(375.92 42.00) scale(0.02310 -0.02310)"/>
<path d="M49 98H535V166H49ZM49 276H535V344H49Z" transform="translate(429.67 42.00) scale(0.02310 -0.02310)"/>
<path d="M259 0L259 505L102 505L102 568C216 583 253 609 285 709L347 709L347 0Z" transform="translate(449.46 42.00) scale(0.02310 -0.02310)"/>
<path d="M259 0L259 505L102 505L102 568C216 583 253 609 285 709L347 709L347 0Z" transform="translate(499.01 42.00) scale(0.02310 -0.02310)"/>
<path d="M259 0L259 505L102 505L102 568C216 583 253 609 285 709L347 709L347 0Z" transform="translate(543.81 49.30) scale(0.01864 -0.01864)"/>
<path d="M49 98H535V166H49ZM49 276H535V344H49Z" transform="translate(560.46 42.00) scale(0.02310 -0.02310)"/>
<path d="M259 0L259 505L102 505L102 568C216 583 253 609 285 709L347 709L347 0Z" transform="translate(580.26 42.00) scale(0.02310 -0.02310)"/>
<path d="M49 98H535V166H49ZM49 276H535V344H49Z" transform="translate(672.79 42.00) scale(0.02310 -0.02310)"/>
</g>
</svg>
</body></html>
